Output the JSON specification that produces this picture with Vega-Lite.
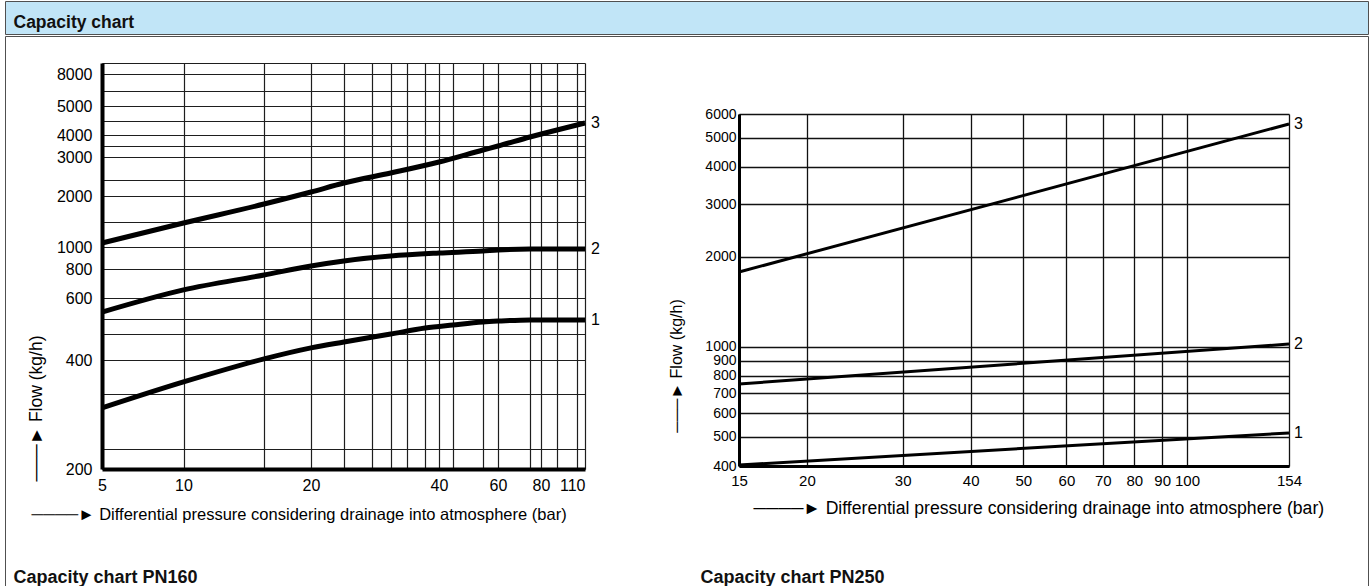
{
  "$schema": "https://vega.github.io/schema/vega-lite/v6.json",
  "padding": {"left": 4, "top": 0, "right": 0, "bottom": 0},
  "background": "white",
  "spacing": 0,
  "config": {"view": {"stroke": null}},
  "datasets": {
    "pn160": [
      {"curve": "3", "pressure": 5, "flow": 1056},
      {"curve": "3", "pressure": 10, "flow": 1386},
      {"curve": "3", "pressure": 15.5, "flow": 1794},
      {"curve": "3", "pressure": 20, "flow": 2085},
      {"curve": "3", "pressure": 23.9, "flow": 2289},
      {"curve": "3", "pressure": 30.8, "flow": 2541},
      {"curve": "3", "pressure": 40, "flow": 2848},
      {"curve": "3", "pressure": 54.1, "flow": 3287},
      {"curve": "3", "pressure": 60, "flow": 3464},
      {"curve": "3", "pressure": 74.3, "flow": 3897},
      {"curve": "3", "pressure": 89.8, "flow": 4157},
      {"curve": "3", "pressure": 110, "flow": 4387},
      {"curve": "2", "pressure": 5, "flow": 547},
      {"curve": "2", "pressure": 10, "flow": 650},
      {"curve": "2", "pressure": 15.5, "flow": 754},
      {"curve": "2", "pressure": 20, "flow": 825},
      {"curve": "2", "pressure": 23.9, "flow": 868},
      {"curve": "2", "pressure": 30.8, "flow": 913},
      {"curve": "2", "pressure": 40, "flow": 941},
      {"curve": "2", "pressure": 54.1, "flow": 960},
      {"curve": "2", "pressure": 60, "flow": 970},
      {"curve": "2", "pressure": 74.3, "flow": 980},
      {"curve": "2", "pressure": 110, "flow": 980},
      {"curve": "1", "pressure": 5, "flow": 295},
      {"curve": "1", "pressure": 10, "flow": 348},
      {"curve": "1", "pressure": 15.5, "flow": 403},
      {"curve": "1", "pressure": 20, "flow": 433},
      {"curve": "1", "pressure": 23.9, "flow": 450},
      {"curve": "1", "pressure": 30.8, "flow": 474},
      {"curve": "1", "pressure": 37.1, "flow": 493},
      {"curve": "1", "pressure": 44, "flow": 503},
      {"curve": "1", "pressure": 54.1, "flow": 513},
      {"curve": "1", "pressure": 60, "flow": 516},
      {"curve": "1", "pressure": 74.3, "flow": 520},
      {"curve": "1", "pressure": 110, "flow": 520}
    ],
    "pn250": [
      {"curve": "3", "pressure": 15, "flow": 1779},
      {"curve": "3", "pressure": 154, "flow": 5556},
      {"curve": "2", "pressure": 15, "flow": 752},
      {"curve": "2", "pressure": 154, "flow": 1022},
      {"curve": "1", "pressure": 15, "flow": 403},
      {"curve": "1", "pressure": 154, "flow": 516}
    ]
  },
  "vconcat": [
    {
      "width": 1363,
      "height": 33,
      "view": {"fill": "#c1e5f7", "stroke": "#505050", "strokeWidth": 1},
      "data": {"values": []},
      "mark": {"type": "rect"},
      "encoding": {
        "x": {
          "field": "v", "type": "quantitative",
          "scale": {"domain": [0, 1]},
          "axis": {
            "orient": "top", "offset": 0,
            "domain": false, "ticks": false, "labels": false, "grid": false,
            "title": "Capacity chart",
            "titleX": 8, "titleY": 26, "titleAlign": "left", "titleBaseline": "alphabetic", "titleAngle": 0,
            "titleFont": "Liberation Sans", "titleFontSize": 17.5, "titleFontWeight": "bold", "titleColor": "#111111"
          }
        }
      }
    },
    {
      "width": 1363,
      "height": 550,
      "view": {"fill": "white", "stroke": "#505050", "strokeWidth": 1},
      "layer": [
        {
          "data": {"name": "pn160"},
          "layer": [
            {
              "mark": {"type": "line", "color": "black", "strokeWidth": 5, "interpolate": "monotone"},
              "encoding": {
                "x": {
                  "field": "pressure", "type": "quantitative",
                  "scale": {"type": "log", "domain": [5, 10, 20, 40, 60, 80, 110], "range": [97, 178.5, 306, 434, 493, 536, 580], "nice": false, "zero": false},
                  "axis": {
                    "orient": "bottom", "offset": -117,
                    "values": [5, 10, 20, 40, 60, 80, 110],
                    "labelExpr": "format(datum.value, 'd')",
                    "labelFlush": false, "labelOverlap": false,
                    "labelAlign": {"condition": {"test": "datum.value >= 110", "value": "right"}, "value": "center"},
                    "labelFont": "Liberation Sans", "labelFontSize": 16, "labelColor": "black", "labelPadding": 8,
                    "grid": false,
                    "domain": true, "domainColor": "black", "domainWidth": 4,
                    "ticks": false,
                    "title": "────►  Differential pressure considering drainage into atmosphere (bar)",
                    "titleX": 26, "titleY": 45, "titleAlign": "left", "titleBaseline": "middle", "titleAngle": 0,
                    "titleFont": "Liberation Sans", "titleFontSize": 16.5, "titleFontWeight": "normal", "titleColor": "black"
                  }
                },
                "y": {
                  "field": "flow", "type": "quantitative",
                  "scale": {"type": "log", "domain": [200, 400, 600, 800, 1000, 2000, 3000, 4000, 5000, 8000, 9400], "range": [433, 324, 262, 233, 211, 160, 121, 99, 70, 38, 27], "nice": false, "zero": false},
                  "axis": {
                    "orient": "left", "offset": -97,
                    "values": [200, 227, 322, 400, 474, 523, 600, 800, 1000, 1405, 2000, 2362, 3000, 3464, 4000, 4456, 5000, 6234, 8000, 9400],
                    "labelExpr": "indexof([200,400,600,800,1000,2000,3000,4000,5000,8000], datum.value) >= 0 ? format(datum.value, 'd') : ''",
                    "labelOverlap": false,
                    "labelFont": "Liberation Sans", "labelFontSize": 16, "labelColor": "black", "labelPadding": 10,
                    "grid": true, "gridColor": "#1e1e1e", "gridWidth": 1.2,
                    "domain": true, "domainColor": "black", "domainWidth": 4,
                    "ticks": false,
                    "title": "───►    Flow (kg/h)",
                    "titleX": -66, "titleY": 372, "titleAngle": -90, "titleAlign": "center", "titleBaseline": "middle",
                    "titleFont": "Liberation Sans", "titleFontSize": 17.5, "titleFontWeight": "normal", "titleColor": "black"
                  }
                },
                "detail": {"field": "curve", "type": "nominal"}
              }
            },
            {
              "transform": [{"filter": "datum.pressure == 110"}],
              "mark": {"type": "text", "align": "left", "baseline": "middle", "dx": 6, "font": "Liberation Sans", "fontSize": 16, "color": "black"},
              "encoding": {
                "x": {
                  "field": "pressure", "type": "quantitative",
                  "axis": {
                    "orient": "top", "offset": 0,
                    "values": [5, 10, 15.5, 20, 23.9, 27.8, 30.8, 33.6, 37.1, 40, 44, 54.1, 60, 74.3, 80, 89.8, 103.8, 110],
                    "grid": true, "gridColor": "#1e1e1e", "gridWidth": 1.2,
                    "domain": false, "ticks": false, "labels": false,
                    "title": "Capacity chart PN160",
                    "titleX": 8, "titleY": 546, "titleAlign": "left", "titleBaseline": "alphabetic", "titleAngle": 0,
                    "titleFont": "Liberation Sans", "titleFontSize": 18, "titleFontWeight": "bold", "titleColor": "#111111"
                  }
                },
                "y": {"field": "flow", "type": "quantitative", "axis": null},
                "text": {"field": "curve", "type": "nominal"}
              }
            }
          ],
          "resolve": {"axis": {"x": "independent", "y": "independent"}}
        },
        {
          "data": {"name": "pn250"},
          "layer": [
            {
              "mark": {"type": "line", "color": "black", "strokeWidth": 3},
              "encoding": {
                "x": {
                  "field": "pressure", "type": "quantitative",
                  "scale": {"type": "log", "domain": [15, 154], "range": [734, 1284], "nice": false, "zero": false},
                  "axis": {
                    "orient": "bottom", "offset": -120,
                    "values": [15, 20, 30, 40, 50, 60, 70, 80, 90, 100, 154],
                    "labelExpr": "format(datum.value, 'd')",
                    "labelFlush": false, "labelOverlap": false,
                    "labelFont": "Liberation Sans", "labelFontSize": 15, "labelColor": "black", "labelPadding": 7,
                    "grid": false,
                    "domain": true, "domainColor": "black", "domainWidth": 3,
                    "ticks": false,
                    "title": "────► Differential pressure considering drainage into atmosphere (bar)",
                    "titleX": 748, "titleY": 42, "titleAlign": "left", "titleBaseline": "middle", "titleAngle": 0,
                    "titleFont": "Liberation Sans", "titleFontSize": 17.6, "titleFontWeight": "normal", "titleColor": "black"
                  }
                },
                "y": {
                  "field": "flow", "type": "quantitative",
                  "scale": {"type": "log", "domain": [400, 6000], "range": [430, 78], "nice": false, "zero": false},
                  "axis": {
                    "orient": "left", "offset": -734,
                    "values": [400, 500, 600, 700, 800, 900, 1000, 2000, 3000, 4000, 5000, 6000],
                    "labelExpr": "format(datum.value, 'd')",
                    "labelOverlap": false,
                    "labelFont": "Liberation Sans", "labelFontSize": 14, "labelColor": "black", "labelPadding": 3,
                    "grid": true, "gridColor": "#111111", "gridWidth": 1.3,
                    "domain": true, "domainColor": "black", "domainWidth": 3,
                    "ticks": false,
                    "title": "───► Flow (kg/h)",
                    "titleX": -63, "titleY": 329.5, "titleAngle": -90, "titleAlign": "center", "titleBaseline": "middle",
                    "titleFont": "Liberation Sans", "titleFontSize": 16, "titleFontWeight": "normal", "titleColor": "black"
                  }
                },
                "detail": {"field": "curve", "type": "nominal"}
              }
            },
            {
              "transform": [{"filter": "datum.pressure == 154"}],
              "mark": {"type": "text", "align": "left", "baseline": "middle", "dx": 5, "font": "Liberation Sans", "fontSize": 16, "color": "black"},
              "encoding": {
                "x": {
                  "field": "pressure", "type": "quantitative",
                  "axis": {
                    "orient": "top", "offset": 0,
                    "values": [15, 20, 30, 40, 50, 60, 70, 80, 90, 100, 154],
                    "grid": true, "gridColor": "#111111", "gridWidth": 1.3,
                    "domain": false, "ticks": false, "labels": false,
                    "title": "Capacity chart PN250",
                    "titleX": 695, "titleY": 546, "titleAlign": "left", "titleBaseline": "alphabetic", "titleAngle": 0,
                    "titleFont": "Liberation Sans", "titleFontSize": 18, "titleFontWeight": "bold", "titleColor": "#111111"
                  }
                },
                "y": {"field": "flow", "type": "quantitative", "axis": null},
                "text": {"field": "curve", "type": "nominal"}
              }
            }
          ],
          "resolve": {"axis": {"x": "independent", "y": "independent"}}
        }
      ],
      "resolve": {"scale": {"x": "independent", "y": "independent"}}
    }
  ]
}
